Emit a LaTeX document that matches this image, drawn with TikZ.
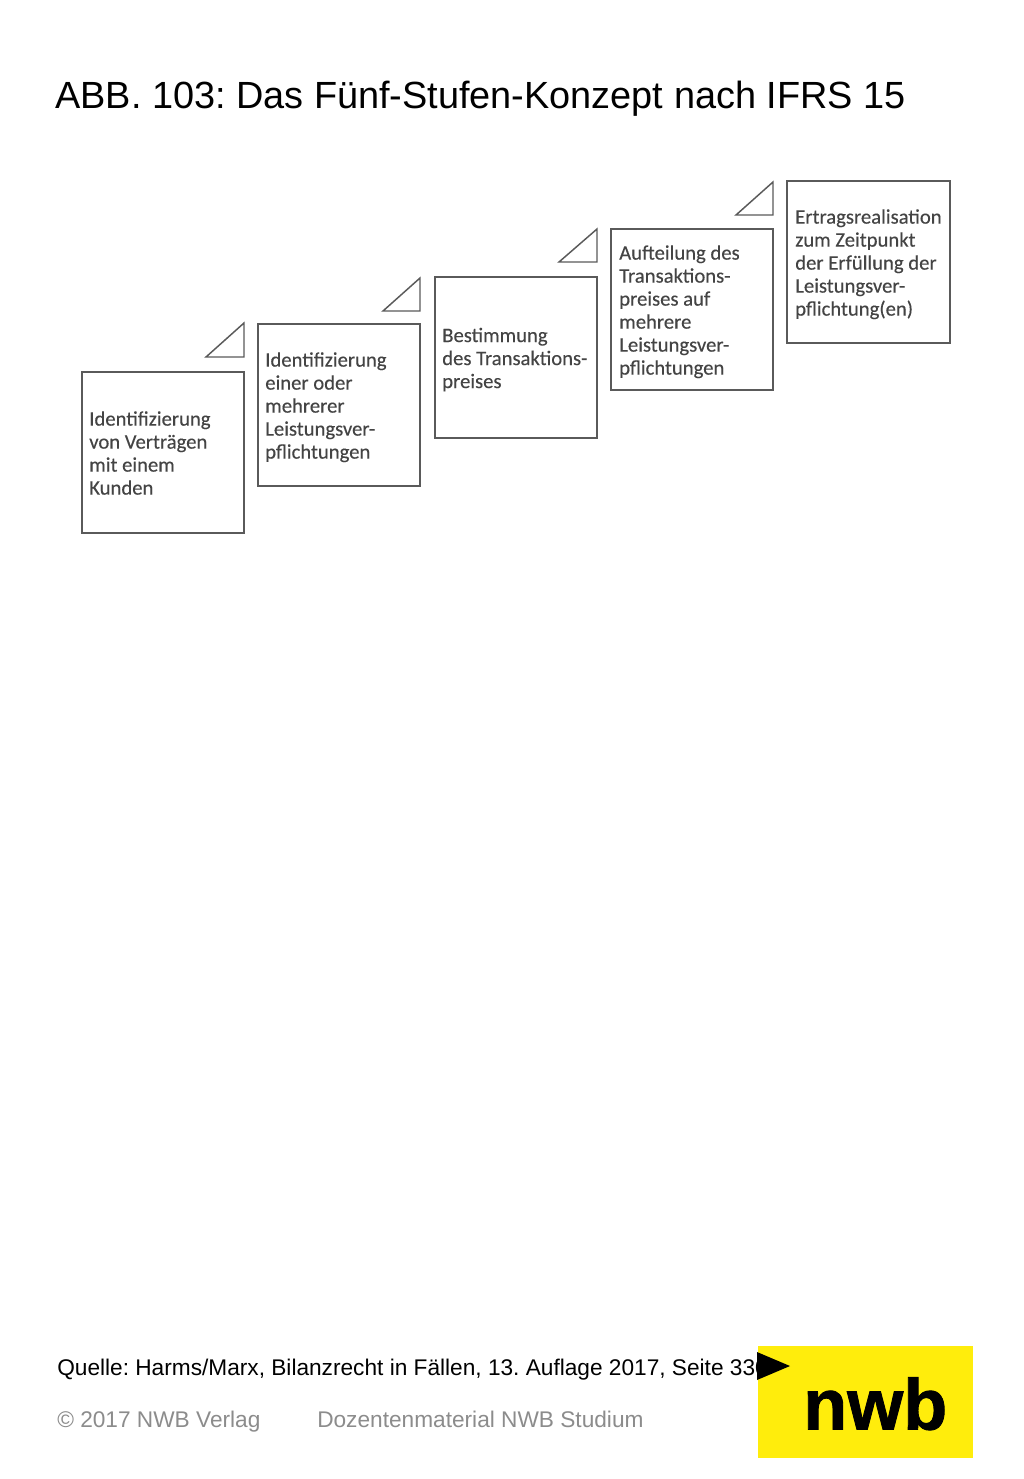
\documentclass[tikz,border=0pt]{standalone}
\usepackage{fontspec}
\setmainfont{Liberation Sans}
\newfontfamily\boxfont[FakeBold=0.25]{Carlito}
\newfontfamily\logofont[BoldFeatures={FakeBold=1.2}]{Liberation Sans}
\definecolor{linegray}{HTML}{5A5A5A}
\definecolor{boxtext}{HTML}{444444}
\definecolor{footgray}{HTML}{8C8C8C}
\definecolor{nwbyellow}{HTML}{FFED0C}
\tikzset{
  stepbox/.style={draw=linegray,line width=1.1pt,fill=white},
  corner/.style={draw=linegray,line width=1.1pt,line join=miter},
  steptext/.style={anchor=north west,inner sep=0pt,align=left,text=boxtext,font=\boxfont\fontsize{15.5}{17.25}\selectfont},
  title/.style={anchor=base west,inner sep=0pt,font=\fontsize{28.4}{32}\selectfont},
  source/.style={anchor=base west,inner sep=0pt,font=\fontsize{17}{20}\selectfont},
  foot/.style={anchor=base west,inner sep=0pt,text=footgray,font=\fontsize{17}{20}\selectfont},
}
\begin{document}
\frenchspacing
\begin{tikzpicture}[x=0.75pt,y=-0.75pt]
\useasboundingbox (0,0) rectangle (1024,1479);
\fill[white] (0,0) rectangle (1024,1479);
\node[title] (head) at (55,108.5) {ABB. 103: Das Fünf-Stufen-Konzept nach IFRS 15};
% step boxes
\draw[stepbox] (82,372) rectangle (244,533);
\draw[stepbox] (258,324) rectangle (420,486);
\draw[stepbox] (435,277) rectangle (597,438);
\draw[stepbox] (611,229) rectangle (773,390);
\draw[stepbox] (787,181) rectangle (950,343);
% corner triangles
\draw[corner] (244,323) -- (244,357) -- (206,357) -- cycle;
\draw[corner] (420,278) -- (420,311) -- (383,311) -- cycle;
\draw[corner] (597,229) -- (597,262) -- (559,262) -- cycle;
\draw[corner] (773,182) -- (773,215) -- (736,215) -- cycle;
% texts
\node[steptext] (t1) at (89,411) {Identifizierung\\von Verträgen\\mit einem\\Kunden};
\node[steptext] (t2) at (265,352) {Identifizierung\\einer oder\\mehrerer\\Leistungsver-\\pflichtungen};
\node[steptext] (t3) at (442,327.5) {Bestimmung\\des Transaktions-\\preises};
\node[steptext] (t4) at (619,245) {Aufteilung des\\Transaktions-\\preises auf\\mehrere\\Leistungsver-\\pflichtungen};
\node[steptext] (t5) at (795,209) {Ertragsrealisation\\zum Zeitpunkt\\der Erfüllung der\\Leistungsver-\\pflichtung(en)};
% footer
\node[source] (src) at (57,1375) {Quelle: Harms/Marx, Bilanzrecht in Fällen, 13. Auflage 2017, Seite 330};
\node[foot] (copy) at (57,1427) {© 2017 NWB Verlag};
\node[foot] (doz) at (317,1427) {Dozentenmaterial NWB Studium};
% logo
\fill[nwbyellow] (757.5,1346) rectangle (973,1458);
\fill[black] (757,1352) -- (790,1366) -- (757,1380) -- cycle;
\node[anchor=base west,inner sep=0pt,font=\logofont\bfseries\fontsize{54}{56}\selectfont] (logo) at (803,1429.5) {nwb};
\end{tikzpicture}
\end{document}
